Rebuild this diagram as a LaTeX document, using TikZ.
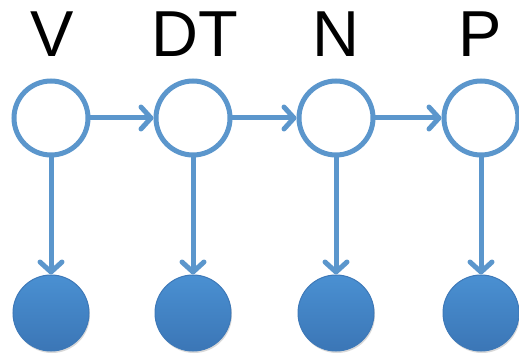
\documentclass[tikz,border=0pt]{standalone}
\usepackage{fontspec}
\setmainfont{Liberation Sans}
\usetikzlibrary{arrows.meta,shadows}
\definecolor{edgeblue}{HTML}{5B96CC}
\definecolor{filltop}{HTML}{4A90D2}
\definecolor{fillbot}{HTML}{3B76B6}
\begin{document}
\begin{tikzpicture}[x=1pt,y=1pt,
  hidden/.style={circle,draw=edgeblue,line width=5pt,fill=white,minimum size=74pt,inner sep=0pt},
  obs/.style={circle,draw=fillbot!90!edgeblue,line width=1pt,top color=filltop,bottom color=fillbot,minimum size=76pt,inner sep=0pt,drop shadow={shadow xshift=1pt,shadow yshift=-2pt,opacity=0.3}},
  lab/.style={font=\fontsize{65}{65}\selectfont,anchor=base,inner sep=0pt},
  conn/.style={draw=edgeblue,line width=5pt,-{Straight Barb[length=10pt,width=22pt,line cap=round,line join=round]},line cap=round}
]
\useasboundingbox (0,0) rectangle (519,354);
\foreach \x/\lx/\n/\t in {51/52/a/V,193/195/b/DT,336/336/c/N,481/480/d/P}{
  \node[hidden] (h\n) at (\x,236) {};
  \node[obs] (o\n) at (\x,41) {};
  \node[lab] (l\n) at (\lx,297) {\t};
}
\draw[conn] (ha) -- (hb);
\draw[conn] (hb) -- (hc);
\draw[conn] (hc) -- (hd);
\foreach \n in {a,b,c,d}{
  \draw[conn] (h\n) -- (o\n);
}
\end{tikzpicture}
\end{document}
